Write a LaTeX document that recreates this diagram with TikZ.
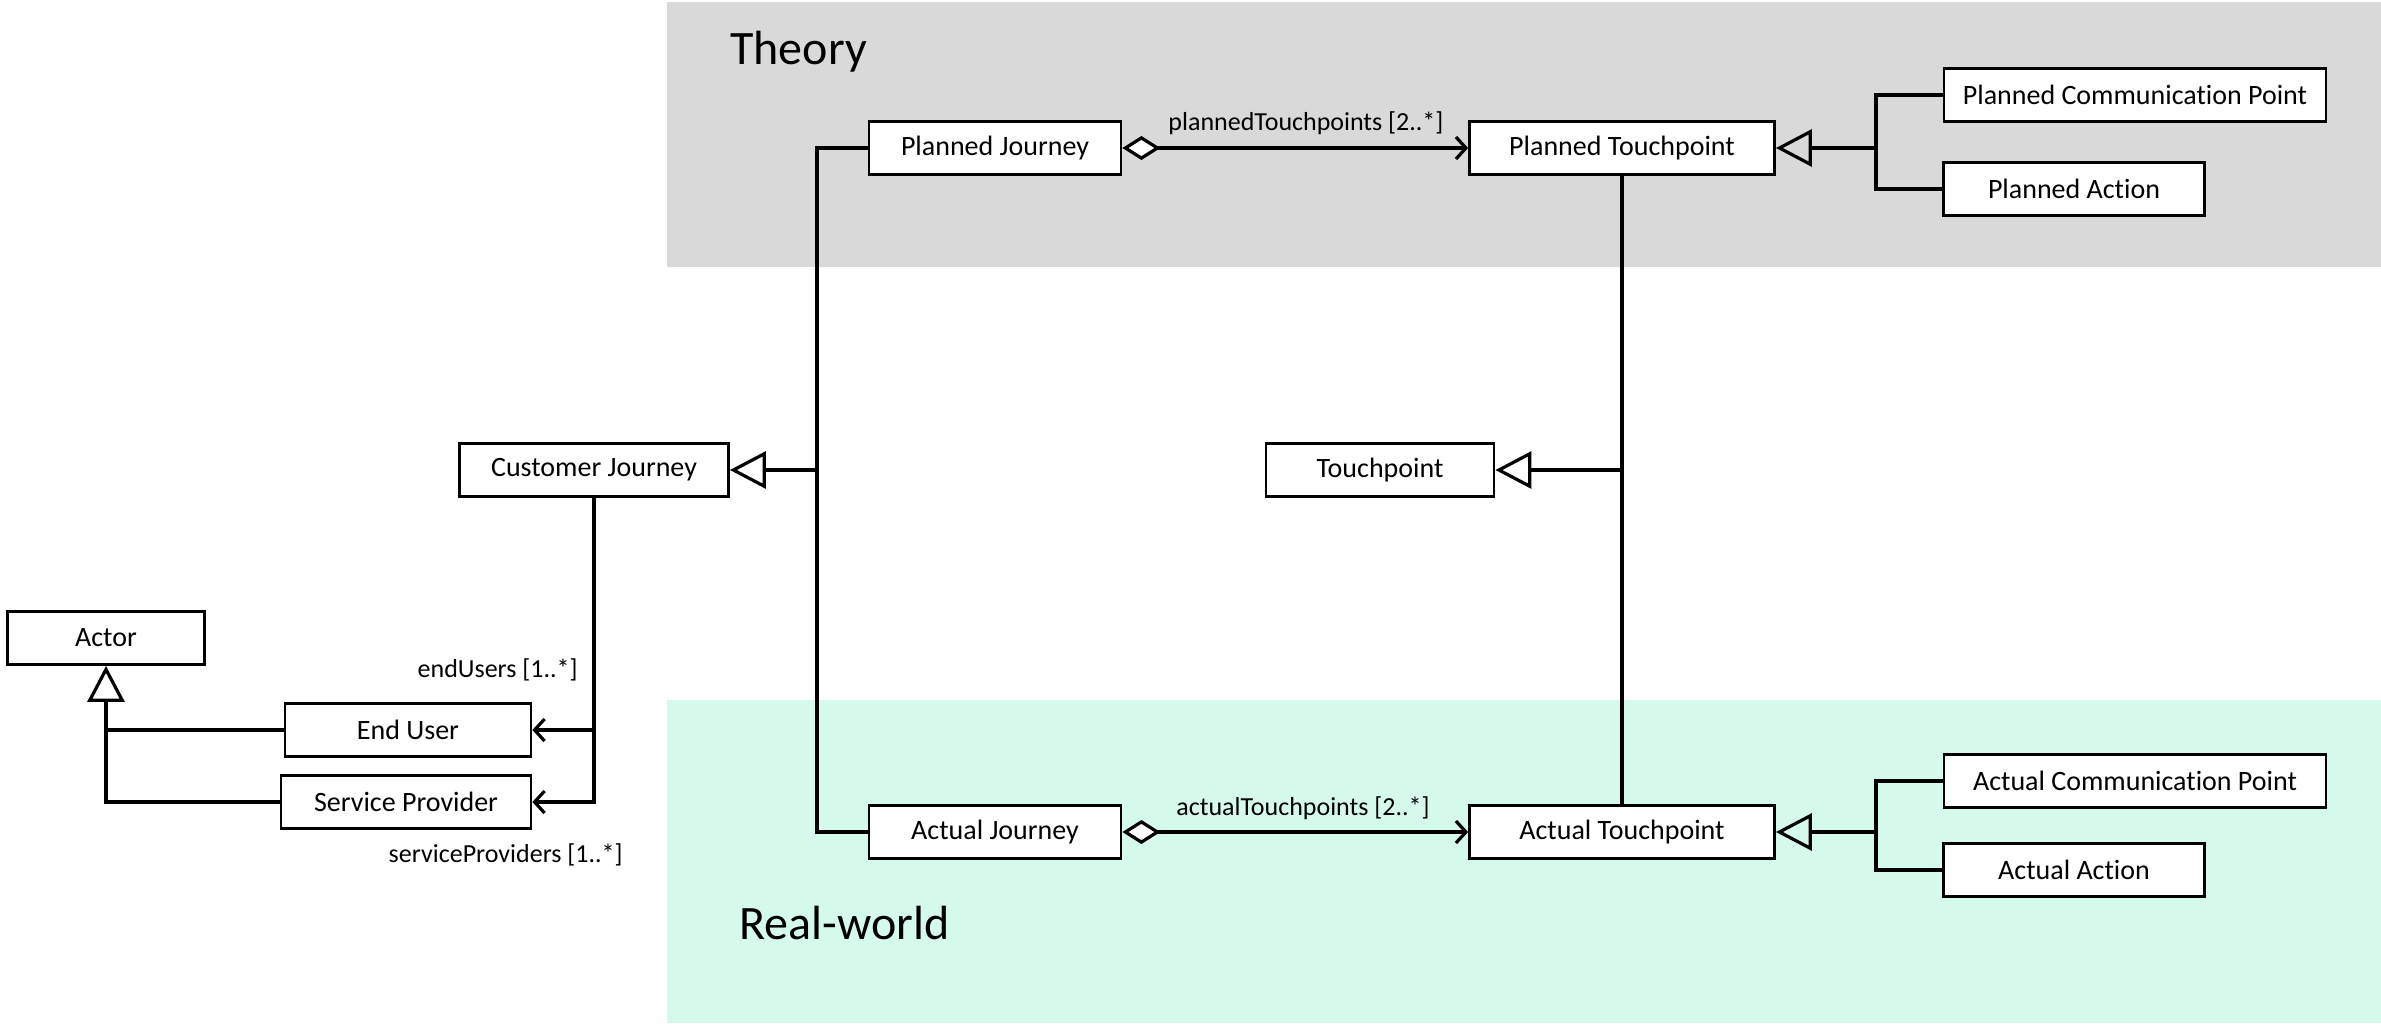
\documentclass[tikz,border=0pt]{standalone}
\usepackage{fontspec}
\setmainfont{Carlito}[Ligatures=NoCommon]
\usetikzlibrary{arrows.meta}
\definecolor{theorybg}{HTML}{D9D9D9}
\definecolor{realbg}{HTML}{D5FAEC}
\tikzset{
  box/.style={draw=black, fill=white, line width=1.4pt, inner sep=0pt,
    minimum height=26.5pt, font=\fontsize{14}{16}\selectfont},
  lbl/.style={inner sep=0pt, font=\fontsize{13}{15}\selectfont},
  zone/.style={inner sep=0pt, anchor=west, font=\fontsize{24}{28}\selectfont},
  conn/.style={draw=black, line width=1.6pt},
  gen/.style={conn, -{Triangle[open, length=18pt, width=18.5pt]}},
  agg/.style={conn, {Diamond[fill=white, length=19pt, width=12pt]}-{Straight Barb[length=5pt, width=11pt]}},
  nav/.style={conn, -{Straight Barb[length=5pt, width=11pt]}},
}
\begin{document}
\begin{tikzpicture}[x=0.5pt, y=-0.5pt]
  \useasboundingbox (0,0) rectangle (2381,1023);
  % background bands
  \fill[theorybg] (667,2) rectangle (2381,267);
  \fill[realbg] (667,700) rectangle (2381,1023);
  \node[zone] (theory) at (730,52) {Theory};
  \node[zone] (realworld) at (739,923) {Real-world};

  % classes
  \node[box, minimum width=126pt]   (pj)  at (995,148)  {Planned Journey};
  \node[box, minimum width=152.5pt] (pt)  at (1622,148) {Planned Touchpoint};
  \node[box, minimum width=191pt]   (pcp) at (2135,95)  {Planned Communication Point};
  \node[box, minimum width=130.5pt] (pa)  at (2074,189) {Planned Action};
  \node[box, minimum width=134.5pt] (cj)  at (594,470)  {Customer Journey};
  \node[box, minimum width=114pt]   (tp)  at (1380,470) {Touchpoint};
  \node[box, minimum width=98.5pt]  (actor) at (106,638) {Actor};
  \node[box, minimum width=123pt]   (eu)  at (408,730)  {End User};
  \node[box, minimum width=125pt]   (sp)  at (406,802)  {Service Provider};
  \node[box, minimum width=126pt]   (aj)  at (995,832)  {Actual Journey};
  \node[box, minimum width=152.5pt] (at)  at (1622,832) {Actual Touchpoint};
  \node[box, minimum width=191pt]   (acp) at (2135,781) {Actual Communication Point};
  \node[box, minimum width=130.5pt] (aa)  at (2074,870) {Actual Action};

  % junction points of the generalization trees
  \coordinate (jL) at (817,470);
  \coordinate (jM) at (pt.south |- tp.east);
  \coordinate (jPT) at (1876,148);
  \coordinate (jAT) at (1876,832);
  \coordinate (jEU) at (actor.south |- eu.west);

  % Planned/Actual Journey are Customer Journeys
  \draw[conn] (pj.west) -| (jL) |- (aj.west);
  \draw[gen] (jL) -- (cj.east);

  % Planned/Actual Touchpoint are Touchpoints
  \draw[conn] (pt.south) -- (at.north);
  \draw[gen] (jM) -- (tp.east);

  % specializations of the touchpoints
  \draw[conn] (pcp.west) -| (jPT) |- (pa.west);
  \draw[gen] (jPT) -- (pt.east);
  \draw[conn] (acp.west) -| (jAT) |- (aa.west);
  \draw[gen] (jAT) -- (at.east);

  % journeys aggregate touchpoints
  \draw[agg] (pj.east) -- (pt.west);
  \node[lbl] (lpt) at (1306,123) {plannedTouchpoints [2..*]};
  \draw[agg] (aj.east) -- (at.west);
  \node[lbl] (lat) at (1303,808) {actualTouchpoints [2..*]};

  % actors of a customer journey
  \draw[nav] (cj.south) |- (eu.east);
  \draw[nav] (cj.south) |- (sp.east);
  \node[lbl, anchor=east] (leu) at (578,670) {endUsers [1..*]};
  \node[lbl, anchor=east] (lsp) at (623,855) {serviceProviders [1..*]};

  % End User and Service Provider are Actors
  \draw[conn] (eu.west) -- (jEU);
  \draw[gen] (sp.west) -| (actor.south);
\end{tikzpicture}
\end{document}
